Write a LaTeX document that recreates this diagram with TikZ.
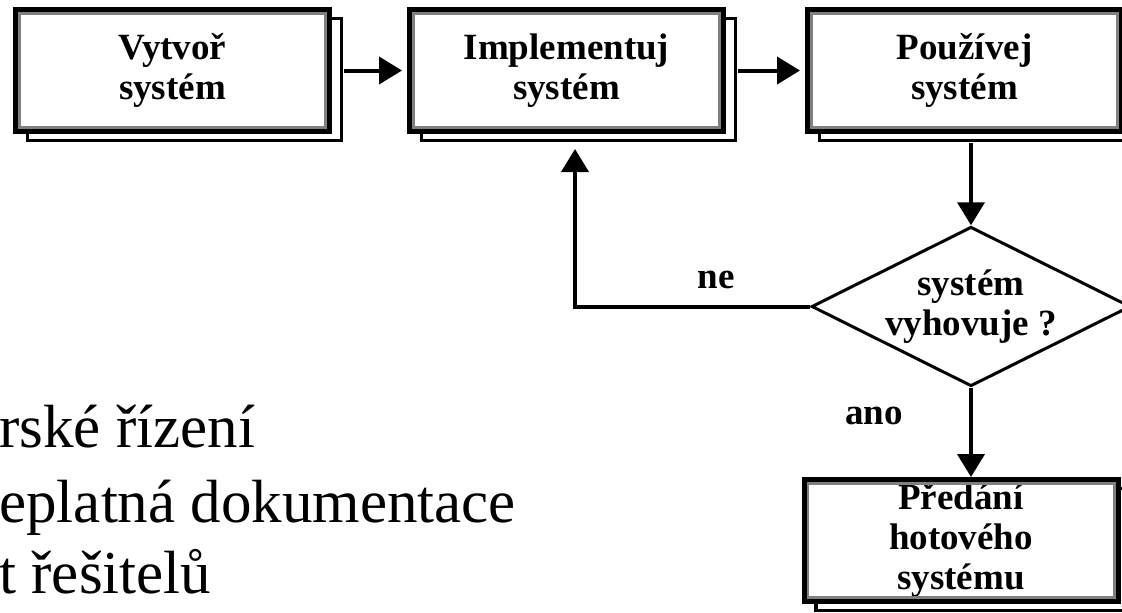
\documentclass[tikz,border=0pt]{standalone}
\usepackage{fontspec}
\setmainfont{Liberation Serif}
\usetikzlibrary{arrows.meta,shapes.geometric,shadows}
\definecolor{okraj}{rgb}{0.5,0.5,0.5}

\begin{document}
\begin{tikzpicture}[x=0.5pt, y=-0.5pt,
        krok/.style={draw=black, line width=2.5pt, fill=white, inner sep=0pt,
            minimum width=157pt, minimum height=61pt, align=center,
            font=\bfseries\fontsize{18.5}{20}\selectfont,
            general shadow={fill=white, draw=black, line width=1.6pt,
                shadow xshift=6pt, shadow yshift=-4.5pt}},
        otazka/.style={diamond, aspect=2, draw=black, line width=1.5pt, fill=white,
            inner sep=0pt, minimum width=159pt, minimum height=77pt, align=center,
            font=\bfseries\fontsize{18.5}{20}\selectfont},
        sipka/.style={draw=black, line width=2pt, -{Triangle[length=11.5pt, width=13.5pt]}},
        popis/.style={font=\bfseries\fontsize{18.5}{20}\selectfont, inner sep=0pt},
        odrazka/.style={font=\fontsize{30.5}{36}\selectfont, inner sep=0pt, anchor=base west}]
    \useasboundingbox (0,0) rectangle (1122,612);
    \clip (0,0) rectangle (1122,612);

    \node[krok] (vytvor) at (172.5,70.5) {Vytvoř\\systém};
    \node[krok] (implementuj) at (566.5,70.5) {Implementuj\\systém};
    \node[krok] (pouzivej) at (964.5,70.5) {Používej\\systém};
    \node[otazka] (dotaz) at (971,306.5) {systém\\vyhovuje ?};
    \node[krok] (predani) at (961,540.5) {Předání\\hotového\\systému};

    \foreach \uzel in {vytvor, implementuj, pouzivej, predani}
        \draw[okraj, line width=1.4pt] ([shift={(3.2pt,-3.2pt)}]\uzel.north west) rectangle ([shift={(-3.2pt,3.2pt)}]\uzel.south east);

    \draw[sipka, shorten <=6pt, shorten >=2.5pt] (vytvor.east) -- (implementuj.west);
    \draw[sipka, shorten <=6pt, shorten >=2.5pt] (implementuj.east) -- (pouzivej.west);
    \draw[sipka, shorten <=4.5pt] (dotaz.north |- pouzivej.south) -- (dotaz.north);
    \draw[sipka, shorten >=7.5pt] (dotaz.west) -| ([xshift=4.25pt]implementuj.south)
        node[popis, pos=0.2, above=8pt] {ne};
    \draw[sipka] (dotaz.south) -- (dotaz.south |- predani.north)
        node[popis, pos=0.32, left=33pt] {ano};

    \foreach \i/\veta/\y in {1/rské řízení/447, 2/eplatná dokumentace/522, 3/t řešitelů/593}
        \node[odrazka] (radek\i) at (-1,\y) {\veta};
\end{tikzpicture}
\end{document}
